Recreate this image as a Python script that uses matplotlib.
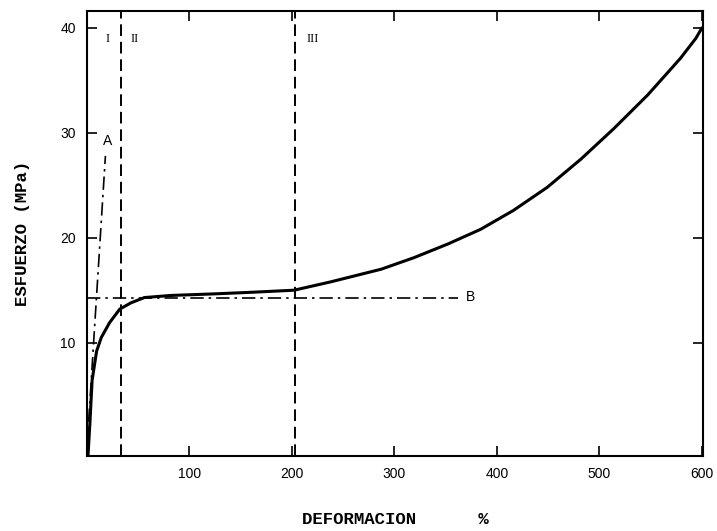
import matplotlib
matplotlib.use("Agg")
import matplotlib.pyplot as plt

# curva esfuerzo-deformacion
deformacion = [1, 3, 5, 9.4, 14, 22, 32, 43, 56, 82, 124, 160, 202, 238, 287, 319, 352,
               384, 416, 449, 482, 514, 547, 579, 594, 600]
esfuerzo = [-0.8, 2.6, 6.4, 9.2, 10.5, 11.9, 13.2, 13.8, 14.3, 14.5, 14.65, 14.8, 15.0,
            15.8, 17.0, 18.1, 19.4, 20.8, 22.6, 24.8, 27.5, 30.4, 33.6, 37.1, 39.0, 40.0]

# recta A (modulo inicial) y recta B (meseta)
recta_a_x = [0, 18]
recta_a_y = [0, 27.8]
recta_b_x = [0, 362]
recta_b_y = [14.3, 14.3]

# limites de zonas
limites = [33, 203]
zonas = ["I", "II", "III"]
zonas_x = [20, 47, 220]

xticks = [100, 200, 300, 400, 500, 600]
yticks = [10, 20, 30, 40]

fig = plt.figure(figsize=(7.17, 5.31), dpi=100)
ax = fig.add_axes([0.1213, 0.1412, 0.8592, 0.8380])

ax.plot(deformacion, esfuerzo, color="black", lw=2.2, solid_capstyle="round")
ax.plot(recta_a_x, recta_a_y, color="black", lw=1.2, linestyle=(0, (8, 3, 1.5, 3)))
ax.plot(recta_b_x, recta_b_y, color="black", lw=1.2, linestyle=(0, (8, 3, 1.5, 3)))
for xl in limites:
    ax.axvline(xl, color="black", lw=1.4, linestyle=(0, (6, 3)))

for z, zx in zip(zonas, zonas_x):
    ax.text(zx, 38.9, z, fontsize=9, family="Liberation Serif", ha="center", va="center")
ax.text(20.5, 29.2, "A", fontsize=10, family="Liberation Sans", ha="center", va="center")
ax.text(374, 14.4, "B", fontsize=10, family="Liberation Sans", ha="center", va="center")

ax.set_xlim(0, 601)
ax.set_ylim(-0.8, 41.6)
ax.set_xticks(xticks)
ax.set_yticks(yticks)
ax.tick_params(direction="in", length=7, width=1.2, top=True, right=True,
               labelsize=10, pad=8)
for lab in ax.get_xticklabels() + ax.get_yticklabels():
    lab.set_family("Liberation Sans")
for s in ax.spines.values():
    s.set_linewidth(1.5)

ax.set_xlabel("DEFORMACION      %", family="Liberation Mono", fontsize=12.5,
              fontweight="bold")
ax.xaxis.set_label_coords(0.5, -0.125)
ax.set_ylabel("ESFUERZO (MPa)", family="Liberation Mono", fontsize=12.5,
              fontweight="bold", labelpad=22)

fig.savefig("out.png", dpi=100)
